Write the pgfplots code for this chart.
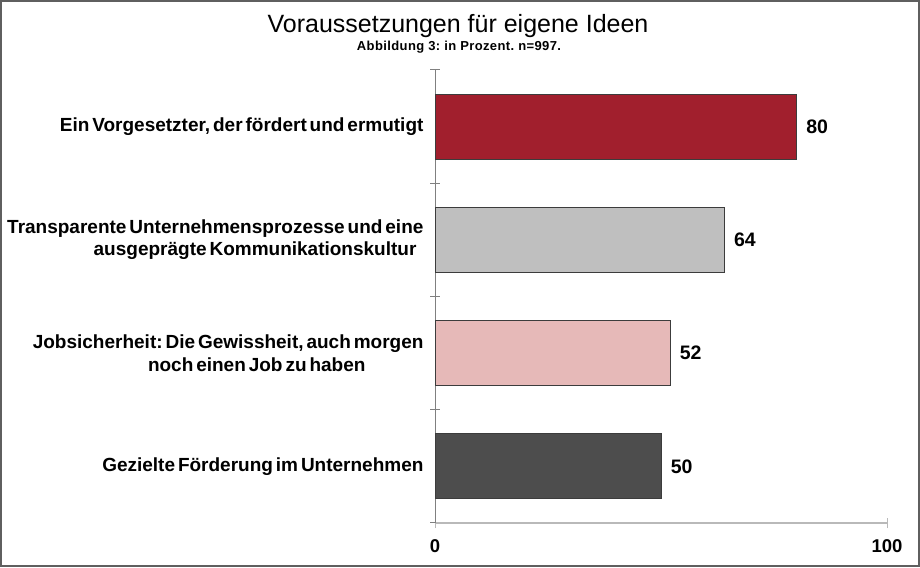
\documentclass[border=0pt]{standalone}
\usepackage{fontspec}
\setmainfont{Liberation Sans}
\newfontfamily\labfont[WordSpace=0.55]{Liberation Sans}
\usepackage{pgfplots}
\pgfplotsset{compat=1.18}
\definecolor{barred}{RGB}{161,31,45}
\definecolor{bargray}{RGB}{191,191,191}
\definecolor{barpink}{RGB}{230,185,184}
\definecolor{bardark}{RGB}{77,77,77}
\definecolor{frame}{RGB}{95,95,95}
\definecolor{barline}{RGB}{60,60,60}
\begin{document}
\frenchspacing
\begin{tikzpicture}[x=1pt,y=1pt]
\fill[white] (0,0) rectangle (920,567);
\draw[line width=2.4pt, frame] (1.2,1.2) rectangle (918.8,565.8);
\node[anchor=base, font=\fontsize{25}{28}\selectfont] at (458,534) {Voraussetzungen für eigene Ideen};
\node[anchor=base, font=\fontsize{13}{15}\selectfont\bfseries\addfontfeature{LetterSpace=3}] at (459,516.5) {Abbildung 3: in Prozent. n=997.};
\begin{axis}[
  at={(435pt,44pt)}, anchor=south west,
  scale only axis, width=452pt, height=453pt,
  xmin=0, xmax=100, ymin=-0.5, ymax=3.5,
  xbar, bar width=65pt, bar shift=0pt,
  axis x line*=bottom, axis y line*=left,
  x axis line style={color=lightgray!90!gray, line width=1.2pt},
  y axis line style={color=gray, line width=1pt},
  /pgf/number format/assume math mode=true,
  xtick={0,100}, minor xtick={0,100},
  ytick={0,1,2,3}, minor ytick={-0.5,0.5,1.5,2.5,3.5},
  major tick length=0pt, minor tick length=10pt,
  tick align=center,
  minor x tick style={color=lightgray!90!gray, line width=1pt},
  minor y tick style={color=gray, line width=1pt},
  xticklabel style={font=\fontsize{18.5}{20}\selectfont\bfseries, yshift=-13pt},
  yticklabels={{Gezielte Förderung im Unternehmen},{Jobsicherheit: Die Gewissheit, auch morgen\\noch einen Job zu haben\hspace*{58pt}},{Transparente Unternehmensprozesse und eine\\ausgeprägte Kommunikationskultur\hspace*{7pt}},{Ein Vorgesetzter, der fördert und ermutigt}},
  yticklabel style={align=right, font=\fontsize{19}{22.5}\selectfont\labfont\bfseries, xshift=-8pt},
  nodes near coords,
  nodes near coords style={font=\fontsize{19.5}{21}\selectfont\bfseries, xshift=6pt, color=black},
  every axis plot/.append style={draw=barline, line width=0.9pt},
  clip=false,
]
\addplot[fill=bardark] coordinates {(50,0)};
\addplot[fill=barpink] coordinates {(52,1)};
\addplot[fill=bargray] coordinates {(64,2)};
\addplot[fill=barred] coordinates {(80,3)};
\end{axis}
\end{tikzpicture}
\end{document}
